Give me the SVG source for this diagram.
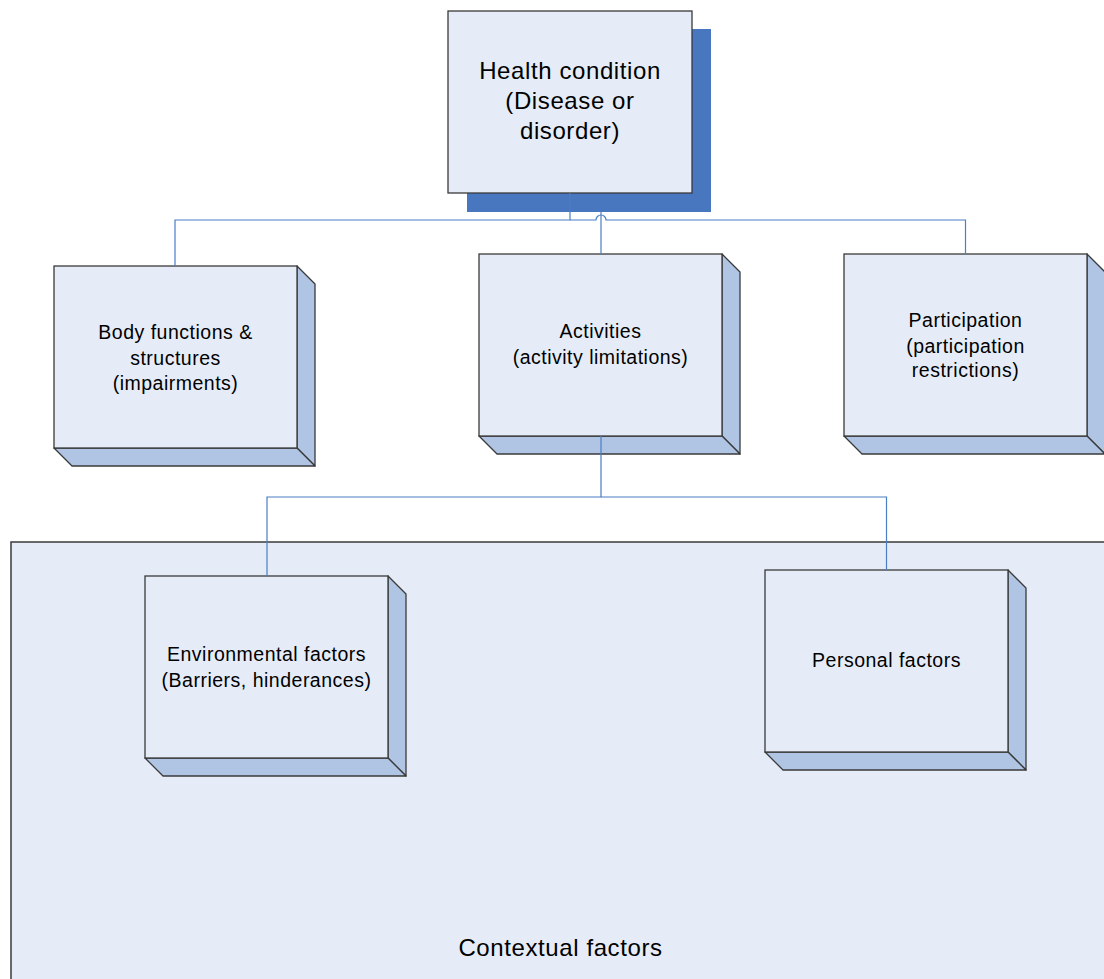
<svg xmlns="http://www.w3.org/2000/svg" width="1104" height="979" viewBox="0 0 1104 979">
<style>
.front{fill:#E6ECF7;stroke:#3a3a3a;stroke-width:1.3}
.side{fill:#B0C5E4;stroke:#3a3a3a;stroke-width:1.3;stroke-linejoin:round}
.conn{fill:none;stroke:#4A7EC6;stroke-width:1.2}
text{font-family:"Liberation Sans",Arial,sans-serif;fill:#000;text-anchor:middle}
.big{font-size:24px;letter-spacing:0.6px}
.small{font-size:19.5px;letter-spacing:0.5px}
</style>
<rect width="1104" height="979" fill="#ffffff"/>
<g id="contextual-factors">
<rect x="11" y="542" width="1110" height="460" fill="#E6ECF7" stroke="#3a3a3a" stroke-width="1.5"/>
<text class="big" x="560.5" y="955.5">Contextual factors</text>
</g>
<g id="health-condition">
<rect x="467" y="29" width="244" height="183" fill="#4877C0"/>
<rect class="front" x="448" y="11" width="244" height="182"/>
<text class="big" x="570" y="79">Health condition</text>
<text class="big" x="570" y="109">(Disease or</text>
<text class="big" x="570" y="139">disorder)</text>
</g>
<g id="body-functions">
<polygon class="side" points="297,266 315,284 315,466 297,448"/>
<polygon class="side" points="54,448 297,448 315,466 72,466"/>
<rect class="front" x="54" y="266" width="243" height="182"/>
<text class="small" x="175.5" y="339">Body functions &amp;</text>
<text class="small" x="175.5" y="364.5">structures</text>
<text class="small" x="175.5" y="390">(impairments)</text>
</g>
<g id="activities">
<polygon class="side" points="722,254 740,272 740,454 722,436"/>
<polygon class="side" points="479,436 722,436 740,454 497,454"/>
<rect class="front" x="479" y="254" width="243" height="182"/>
<text class="small" x="600.5" y="338">Activities</text>
<text class="small" x="600.5" y="364">(activity limitations)</text>
</g>
<g id="participation">
<polygon class="side" points="1087,254 1105,272 1105,454 1087,436"/>
<polygon class="side" points="844,436 1087,436 1105,454 862,454"/>
<rect class="front" x="844" y="254" width="243" height="182"/>
<text class="small" x="965.5" y="327">Participation</text>
<text class="small" x="965.5" y="352.5">(participation</text>
<text class="small" x="965.5" y="377">restrictions)</text>
</g>
<g id="environmental-factors">
<polygon class="side" points="388,576 406,594 406,776 388,758"/>
<polygon class="side" points="145,758 388,758 406,776 163,776"/>
<rect class="front" x="145" y="576" width="243" height="182"/>
<text class="small" x="266.5" y="661">Environmental factors</text>
<text class="small" x="266.5" y="686.5">(Barriers, hinderances)</text>
</g>
<g id="personal-factors">
<polygon class="side" points="1008,570 1026,588 1026,770 1008,752"/>
<polygon class="side" points="765,752 1008,752 1026,770 783,770"/>
<rect class="front" x="765" y="570" width="243" height="182"/>
<text class="small" x="886.5" y="666.5">Personal factors</text>
</g>
<g id="connectors">
<path class="conn" d="M570 193 V220 H175 V266"/>
<path class="conn" d="M570 220 H596 A5 5 0 0 1 606 220 H965.5 V254"/>
<path class="conn" d="M601 212 V254"/>
<path class="conn" d="M601 436 V497 H267 V576"/>
<path class="conn" d="M601 497 H886.5 V570"/>
</g>
</svg>
